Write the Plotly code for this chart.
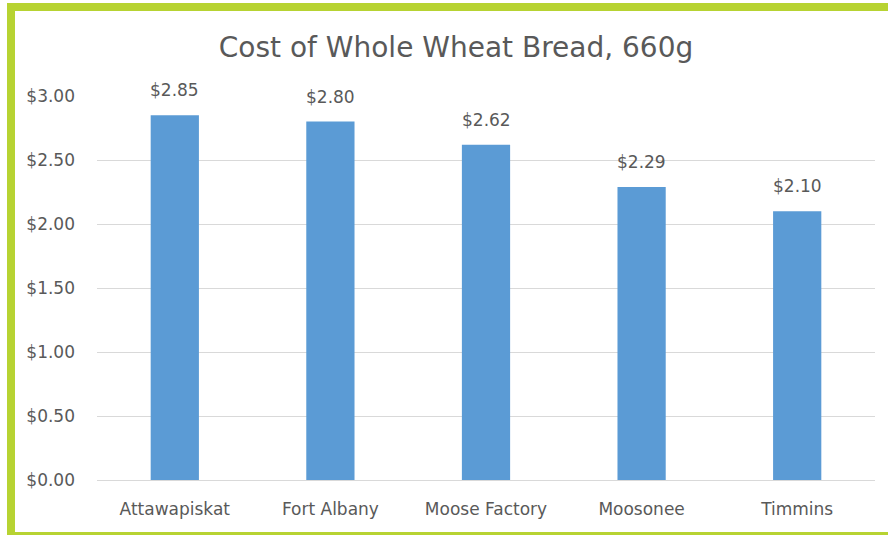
import plotly.graph_objects as go

towns = ["Attawapiskat", "Fort Albany", "Moose Factory", "Moosonee", "Timmins"]
cost = [2.85, 2.80, 2.62, 2.29, 2.10]
yticks = [0, 0.5, 1.0, 1.5, 2.0, 2.5, 3.0]

W, H = 888, 535
L, R, T, B = 97, 13, 96, 55
pw, ph = W - L - R, H - T - B

def px(x):
    return (x - L) / pw

def py(y):
    return (H - B - y) / ph

grey = "#595959"
font = "DejaVu Sans"

fig = go.Figure()
fig.add_trace(go.Bar(x=towns, y=cost, marker_color="#5B9BD5", marker_line_width=0, width=0.31))

# value labels above each bar
for t, c in zip(towns, cost):
    fig.add_annotation(x=t, y=c, text="${:.2f}".format(c), showarrow=False,
                       yanchor="bottom", yshift=13, font=dict(size=17, color=grey, family=font))

# green frame (top, left, bottom)
green = "#B7D332"
fig.add_shape(type="rect", xref="paper", yref="paper", x0=px(7), x1=px(888), y0=py(3), y1=py(11),
              fillcolor=green, line_width=0, layer="above")
fig.add_shape(type="rect", xref="paper", yref="paper", x0=px(7), x1=px(15), y0=py(3), y1=py(535),
              fillcolor=green, line_width=0, layer="above")
fig.add_shape(type="rect", xref="paper", yref="paper", x0=px(7), x1=px(888), y0=py(532), y1=py(535),
              fillcolor=green, line_width=0, layer="above")

fig.update_layout(
    width=W, height=H,
    margin=dict(l=L, r=R, t=T, b=B),
    paper_bgcolor="white", plot_bgcolor="white",
    showlegend=False,
    title=dict(text="Cost of Whole Wheat Bread, 660g", x=(456 - L) / pw, xref="paper", xanchor="center",
               y=1 - 47 / H, yanchor="middle",
               font=dict(size=28, color=grey, family=font)),
    font=dict(family=font, color=grey, size=17),
)
fig.update_yaxes(range=[0, 3], tickvals=yticks, tickformat="$.2f", showgrid=True, gridcolor="#D9D9D9",
                 gridwidth=1, zeroline=False, showline=False, ticks="", ticklabelstandoff=21,
                 tickfont=dict(size=17, color=grey))
fig.update_xaxes(showline=True, linecolor="#D9D9D9", linewidth=1, ticks="", ticklabelstandoff=14,
                 tickfont=dict(size=17, color=grey))

fig.write_html("out.html", config={"displayModeBar": False},
               post_script="document.body.style.margin='0';")
